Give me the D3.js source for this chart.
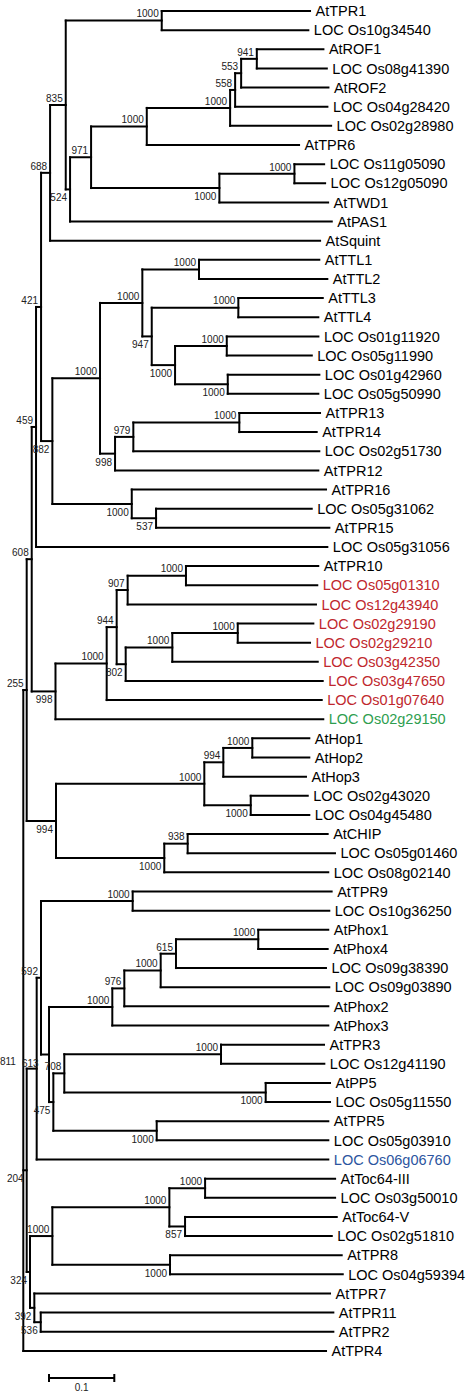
<!DOCTYPE html>
<html>
<head>
<meta charset="utf-8">
<script src="https://cdn.jsdelivr.net/npm/d3@7"></script>
<style>
  html, body { margin: 0; padding: 0; background: #fff; }
  svg { display: block; }
</style>
</head>
<body>
<div id="chart"></div>
<script>
// ---- DATA: clades in Newick form (branch lengths in substitutions/site, internal labels = bootstrap) ----
const cladeROF = "((((AtROF1:0.1020,LOC_Os08g41390:0.1072)941:0.0240,AtROF2:0.1337)553:0.0092,LOC_Os04g28420:0.1413)558:0.0077,LOC_Os02g28980:0.1547)1000:0.1276";
const cladeTWD = "((LOC_Os11g05090:0.0455,LOC_Os12g05090:0.0470)1000:0.1149,AtTWD1:0.1665)1000:0.1965";
const clade971 = `((${cladeROF},AtTPR6:0.2332)1000:0.0853,${cladeTWD})971:0.0322`;
const clade835 = `((AtTPR1:0.2271,LOC_Os10g34540:0.2245)1000:0.1470,(${clade971},AtPAS1:0.4008)524:0.0066)835:0.0240`;
const clade688 = `(${clade835},AtSquint:0.4135)688:0.0138`;
const cladeTTL = "((AtTTL1:0.1842,AtTTL2:0.1965)1000:0.0868,((AtTTL3:0.1293,AtTTL4:0.1225)1000:0.1326,((LOC_Os01g11920:0.1403,LOC_Os05g11990:0.1302)1000:0.0792,(LOC_Os01g42960:0.1403,LOC_Os05g50990:0.1387)1000:0.0807)1000:0.0357)947:0.0144)1000:0.0648";
const clade998 = "(((AtTPR13:0.1236,AtTPR14:0.1185)1000:0.1623,LOC_Os02g51730:0.2848)979:0.0280,AtTPR12:0.3113)998:0.0230";
const clade882 = `((${cladeTTL},${clade998})1000:0.0730,(AtTPR16:0.2975,(LOC_Os05g31062:0.2384,AtTPR15:0.2654)537:0.0372)1000:0.1216)882:0.0173`;
const clade459 = `((${clade688},${clade882})421:0.0077,LOC_Os05g31056:0.4461)459:0.0066`;
const cladeRed = "((((AtTPR10:0.2026,LOC_Os05g01310:0.2011)1000:0.0893,LOC_Os12g43940:0.2884)907:0.0168,(((LOC_Os02g29190:0.1158,LOC_Os02g29210:0.1107)1000:0.1002,LOC_Os03g42350:0.2227)1000:0.0714,LOC_Os03g47650:0.3017)802:0.0138)944:0.0153,LOC_Os01g07640:0.3293)1000:0.0784";
const clade608 = `(${clade459},(${cladeRed},LOC_Os02g29150:0.4101)998:0.0364)608:0.0077`;
const cladeHop = "((((AtHop1:0.0873,AtHop2:0.0873)1000:0.0444,AtHop3:0.1266)994:0.0291,(LOC_Os02g43020:0.0873,LOC_Os04g45480:0.0897)1000:0.0711)1000:0.2271,((AtCHIP:0.2144,LOC_Os05g01460:0.2256)938:0.0358,LOC_Os08g02140:0.2511)1000:0.1658)994:0.0449";
const clade255 = `(${clade608},${cladeHop})255:0.0052`;
const cladePhox = "(((((AtPhox1:0.1072,AtPhox4:0.1063)1000:0.1260,LOC_Os09g38390:0.2297)615:0.0234,LOC_Os09g03890:0.2582)1000:0.0557,AtPhox2:0.3124)976:0.0184,AtPhox3:0.3308)1000:0.0969";
const clade475 = "(((AtTPR3:0.1577,LOC_Os12g41190:0.1582)1000:0.2400,(AtPP5:0.0985,LOC_Os05g11550:0.0985)1000:0.3084)708:0.0168,(AtTPR5:0.2628,LOC_Os05g03910:0.2628)1000:0.1583)475:0.0066";
const clade811 = `(((AtTPR9:0.3047,LOC_Os10g36250:0.3011)1000:0.1404,(${cladePhox},${clade475})613:0.0123)592:0.0066,LOC_Os06g06760:0.4466)811:0.0153`;
const clade324 = "((((AtToc64-III:0.1991,LOC_Os03g50010:0.1991)1000:0.0547,(AtToc64-V:0.2323,LOC_Os02g51810:0.2247)857:0.0240)1000:0.1792,(AtTPR8:0.2629,LOC_Os04g59394:0.2645)1000:0.1802)1000:0.0342,(AtTPR7:0.4528,(AtTPR11:0.4481,AtTPR2:0.4481)536:0.0098)392:0.0066)324:0.0051";
const clade204 = `(${clade811},${clade324})204:0.0052`;
const treeNewick = `(${clade255},${clade204},AtTPR4:0.4636);`;

const redLeaves = ["LOC_Os05g01310", "LOC_Os12g43940", "LOC_Os02g29190", "LOC_Os02g29210",
                   "LOC_Os03g42350", "LOC_Os03g47650", "LOC_Os01g07640"];
const greenLeaves = ["LOC_Os02g29150"];
const blueLeaves = ["LOC_Os06g06760"];
const scaleBarValue = [0.1];
const scaleBarLabel = ["0.1"];

// ---- PARSE ----
function parseNewick(str) {
  const s = str.replace(/\s+/g, "");
  let i = 0;
  function node() {
    const n = {};
    const kids = [];
    if (s[i] === "(") {
      i++;
      kids.push(node());
      while (s[i] === ",") { i++; kids.push(node()); }
      i++;
    }
    let name = "";
    while (i < s.length && !",():;".includes(s[i])) name += s[i++];
    let len = 0;
    if (s[i] === ":") {
      i++;
      let num = "";
      while (i < s.length && !",();".includes(s[i])) num += s[i++];
      len = +num;
    }
    n.name = name;
    n.length = len;
    if (kids.length) n.children = kids;
    return n;
  }
  return node();
}

const W = 469, H = 1395;
const FONT = "'Liberation Sans', Arial, sans-serif";
const svg = d3.select("#chart").append("svg")
  .attr("width", W).attr("height", H)
  .attr("viewBox", `0 0 ${W} ${H}`);
svg.append("rect").attr("width", W).attr("height", H).attr("fill", "#fff");

const root = d3.hierarchy(parseNewick(treeNewick));
root.each(d => { d.dist = d.parent ? d.parent.dist + d.data.length : 0; });
const leaves = root.leaves();

const x = d3.scaleLinear().domain([0, 0.1]).range([23.3, 23.3 + 65.3]);
const y = d3.scaleLinear().domain([0, leaves.length - 1]).range([11, 1350.9]);

leaves.forEach((d, i) => { d.yy = y(i); });
root.eachAfter(d => {
  if (d.children) d.yy = (d.children[0].yy + d.children[d.children.length - 1].yy) / 2;
});
root.each(d => { d.xx = x(d.dist); });

const g = svg.append("g");
const nodes = root.descendants();

// horizontal branches
g.selectAll("path.h").data(nodes.filter(d => d.parent)).join("path")
  .attr("class", "h")
  .attr("d", d => `M${d.parent.xx},${d.yy}H${d.xx}`)
  .attr("stroke", "#000").attr("stroke-width", 2).attr("fill", "none")
  .attr("stroke-linecap", "square");

// vertical connectors
g.selectAll("path.v").data(nodes.filter(d => d.children)).join("path")
  .attr("class", "v")
  .attr("d", d => `M${d.xx},${d.children[0].yy}V${d.children[d.children.length - 1].yy}`)
  .attr("stroke", "#000").attr("stroke-width", 2).attr("fill", "none")
  .attr("stroke-linecap", "square");

// leaf labels
function leafColor(name) {
  if (redLeaves.includes(name)) return "#c0272d";
  if (greenLeaves.includes(name)) return "#2e9e4f";
  if (blueLeaves.includes(name)) return "#2c55a0";
  return "#000";
}
g.selectAll("text.leaf").data(leaves).join("text")
  .attr("class", "leaf")
  .attr("x", d => d.xx + 5.5)
  .attr("y", d => d.yy + 5.2)
  .attr("font-family", FONT)
  .attr("font-size", "14.5px")
  .attr("fill", d => leafColor(d.data.name))
  .text(d => d.data.name.replace(/_/g, " "));

// bootstrap labels (left of node; above branch for first child, below otherwise)
const support = nodes.filter(d => d.children && d.parent && d.data.name !== "");
support.sort((a, b) => b.xx - a.xx);
const placed = [];
const fs = 10;
const tmp = svg.append("text").attr("font-family", FONT).attr("font-size", fs + "px");
support.forEach(d => {
  const isFirst = d.parent.children[0] === d;
  const base = isFirst ? d.yy - 3.2 : d.yy + 12;
  tmp.text(d.data.name);
  const w = tmp.node().getComputedTextLength();
  let right = d.xx - 3;
  const top = base - 7.5, bottom = base;
  let changed = true;
  while (changed) {
    changed = false;
    for (const p of placed) {
      if (top < p.bottom && bottom > p.top && right - w < p.right && right > p.left) {
        right = p.left - 6;
        changed = true;
      }
    }
  }
  placed.push({ left: right - w, right, top, bottom });
  d.labelX = right;
  d.labelY = base;
});
tmp.remove();

g.selectAll("text.bs").data(support).join("text")
  .attr("class", "bs")
  .attr("x", d => d.labelX)
  .attr("y", d => d.labelY)
  .attr("text-anchor", "end")
  .attr("font-family", FONT)
  .attr("font-size", fs + "px")
  .attr("fill", "#222")
  .text(d => d.data.name);

// scale bar
const sb = svg.append("g").attr("class", "scalebar");
const bx0 = 49, by = 1378;
const barW = x(scaleBarValue[0]) - x(0);
sb.append("path")
  .attr("d", `M${bx0},${by}H${bx0 + barW}M${bx0},${by - 4}V${by + 4}M${bx0 + barW},${by - 4}V${by + 4}`)
  .attr("stroke", "#000").attr("stroke-width", 2).attr("fill", "none");
sb.append("text")
  .attr("x", bx0 + barW / 2).attr("y", by + 12.5)
  .attr("text-anchor", "middle")
  .attr("font-family", FONT)
  .attr("font-size", "10px").attr("fill", "#222")
  .text(scaleBarLabel[0]);
</script>
</body>
</html>
